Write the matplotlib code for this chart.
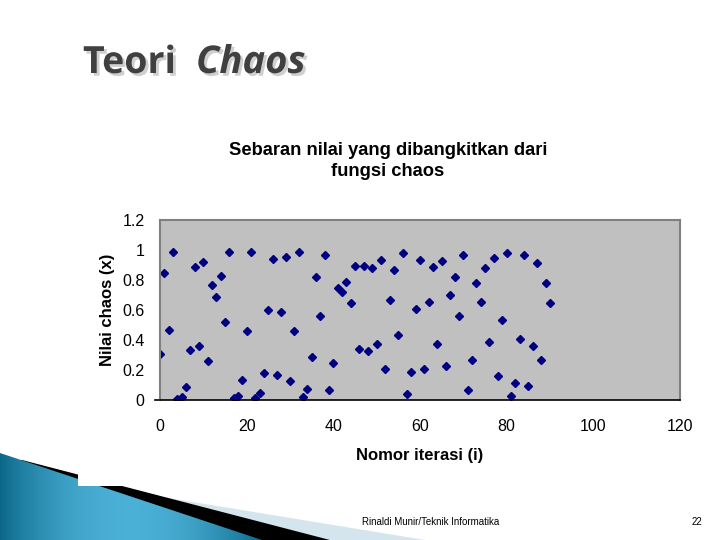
import numpy as np
import matplotlib
matplotlib.use("Agg")
import matplotlib.pyplot as plt
import matplotlib.patheffects as pe
from matplotlib.patches import Polygon, Rectangle

plt.rcParams['font.family'] = ['Liberation Sans', 'DejaVu Sans']

# nilai chaos per iterasi
iterasi = list(range(0, 91))
nilai = [0.305, 0.85, 0.47, 0.99, 0.01, 0.02, 0.09, 0.335, 0.89, 0.36,
         0.92, 0.26, 0.77, 0.69, 0.83, 0.52, 0.99, 0.015, 0.03, 0.135,
         0.46, 0.99, 0.015, 0.045, 0.18, 0.60, 0.94, 0.17, 0.59, 0.955,
         0.13, 0.46, 0.99, 0.02, 0.075, 0.29, 0.82, 0.56, 0.97, 0.067,
         0.25, 0.75, 0.72, 0.79, 0.65, 0.895, 0.34, 0.895, 0.33, 0.88,
         0.375, 0.935, 0.21, 0.67, 0.87, 0.435, 0.98, 0.04, 0.19, 0.61,
         0.935, 0.205, 0.655, 0.89, 0.375, 0.925, 0.23, 0.70, 0.82, 0.56,
         0.97, 0.07, 0.27, 0.78, 0.655, 0.88, 0.39, 0.95, 0.16, 0.535,
         0.98, 0.03, 0.115, 0.41, 0.965, 0.095, 0.36, 0.915, 0.27, 0.78,
         0.65]
x_ticks = [0, 20, 40, 60, 80, 100, 120]
y_ticks = [0, 0.2, 0.4, 0.6, 0.8, 1.0, 1.2]
y_ticklabels = ['0', '0.2', '0.4', '0.6', '0.8', '1', '1.2']

W, H = 720, 540
fig = plt.figure(figsize=(7.2, 5.4), dpi=100)
fig.patch.set_facecolor('white')

# dekorasi slide (koordinat piksel)
deco = fig.add_axes([0, 0, 1, 1], zorder=0)
deco.set_xlim(0, W)
deco.set_ylim(H, 0)
deco.axis('off')
deco.add_patch(Polygon([(95, 486), (425, 540), (95, 540)], closed=True,
                       facecolor='#d5e5ed', edgecolor='none'))
deco.add_patch(Polygon([(22, 460), (330, 540), (0, 540), (0, 460)], closed=True,
                       facecolor='black', edgecolor='none'))
blue = Polygon([(0, 453), (262, 540), (0, 540)], closed=True,
               facecolor='none', edgecolor='none')
deco.add_patch(blue)
grad = np.linspace(0, 1, 256).reshape(1, -1)
grad = np.sin(grad * np.pi) ** 0.8
img = deco.imshow(grad, extent=[0, 262, 540, 453], aspect='auto',
                  cmap=matplotlib.colors.LinearSegmentedColormap.from_list(
                      'b', ['#0a6688', '#4bb0d6']), zorder=1)
img.set_clip_path(blue)
deco.add_patch(Rectangle((78, 430), 650, 56, facecolor='white',
                         edgecolor='none', zorder=2))

# judul slide
shadow = [pe.SimplePatchShadow(offset=(2, -2), shadow_rgbFace='#cfcfcf', alpha=1),
          pe.Normal()]
fig.text(83 / W, 1 - 73 / H, 'Teori', fontsize=27, family='Open Sans',
         weight='bold', color='#404040', path_effects=shadow)
fig.text(196 / W, 1 - 73 / H, 'Chaos', fontsize=27.5, family='Open Sans',
         weight='bold', style='italic', color='#404040', path_effects=shadow)

# grafik
ax = fig.add_axes([160 / W, 1 - 400 / H, 520 / W, 180 / H], zorder=3)
ax.set_facecolor('#c0c0c0')
ax.plot(iterasi, nilai, linestyle='none', marker='D', markersize=4.2,
        color='#000080')
ax.set_xlim(0, 120)
ax.set_ylim(0, 1.2)
ax.set_xticks(x_ticks)
ax.set_yticks(y_ticks)
ax.set_yticklabels(y_ticklabels)
ax.tick_params(length=0, labelsize=11.5)
ax.tick_params(axis='x', pad=14)
ax.tick_params(axis='y', pad=11)
for s in ['top', 'right', 'left']:
    ax.spines[s].set_color('#808080')
    ax.spines[s].set_linewidth(1.5)
ax.spines['bottom'].set_color('black')
ax.spines['bottom'].set_linewidth(1.2)
ax.plot([-1.2, 0], [0, 0], color='black', lw=1.2, clip_on=False)

ax.set_xlabel('Nomor iterasi (i)', fontsize=12, weight='bold', labelpad=10)
ax.set_ylabel('Nilai chaos (x)', fontsize=12, weight='bold', labelpad=5)
fig.text(388 / W, 1 - 161 / H, 'Sebaran nilai yang dibangkitkan dari\nfungsi chaos',
         ha='center', va='center', fontsize=13.2, weight='bold', linespacing=1.35)

# footer
fig.text(362 / W, 1 - 522 / H, 'Rinaldi Munir/Teknik Informatika', fontsize=7,
         va='center', color='black')
fig.text(697 / W, 1 - 522 / H, '22', fontsize=7, ha='center', va='center')

fig.savefig('out.png', dpi=100, facecolor='white')
